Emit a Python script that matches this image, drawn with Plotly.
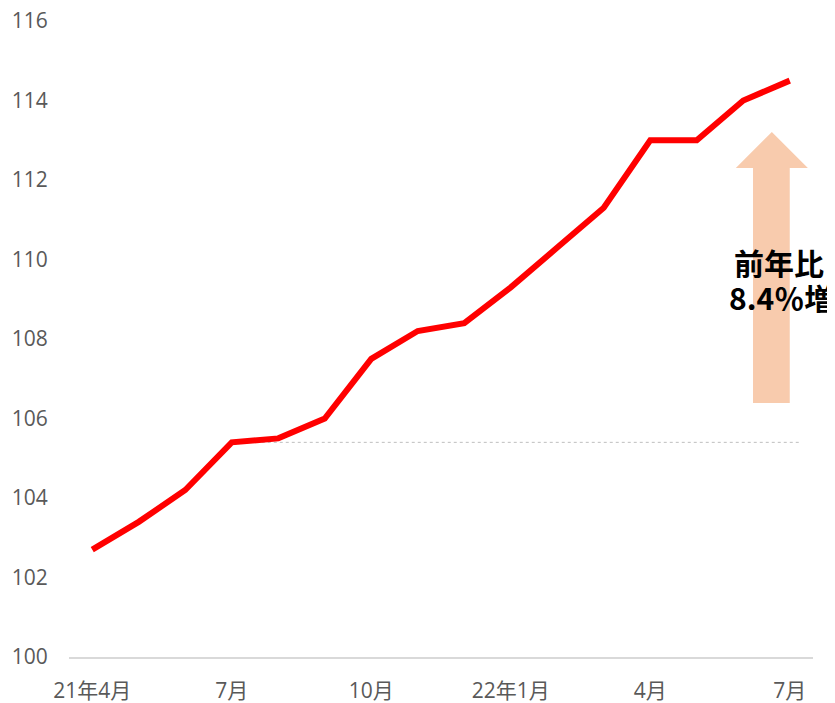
import plotly.graph_objects as go

months = ["21年4月", "5月", "6月", "7月", "8月", "9月", "10月", "11月", "12月",
          "22年1月", "2月", "3月", "4月", "5月", "6月", "7月"]
values = [102.7, 103.4, 104.2, 105.4, 105.5, 106.0, 107.5, 108.2, 108.4,
          109.3, 110.3, 111.3, 113.0, 113.0, 114.0, 114.5]
tick_idx = [0, 3, 6, 9, 12, 15]
tick_labels = ["21年4月", "7月", "10月", "22年1月", "4月", "7月"]
y_ticks = list(range(100, 117, 2))

FONT = "Open Sans, Noto Sans CJK JP"
CJK = "Noto Sans CJK JP"
x = list(range(len(months)))

fig = go.Figure()
fig.add_trace(go.Scatter(
    x=x, y=values, mode="lines",
    line=dict(color="#FF0000", width=6),
    hoverinfo="skip", showlegend=False,
))

# reference line at the year-ago (7月) level
ref_y = values[3]
fig.add_shape(type="line", xref="x", yref="y", x0=3, x1=15.25, y0=ref_y, y1=ref_y,
              line=dict(color="#BFBFBF", width=1, dash="dot"), layer="below")

# up arrow
hl, hr, sl, sr = 13.84, 15.39, 14.21, 15.0
tip, base, bottom = 113.21, 112.30, 106.39
path = (f"M {sl},{bottom} L {sl},{base} L {hl},{base} L {(hl+hr)/2},{tip} "
        f"L {hr},{base} L {sr},{base} L {sr},{bottom} Z")
fig.add_shape(type="path", path=path, xref="x", yref="y",
              fillcolor="#F8CBAD", line=dict(width=0), layer="below")

for txt, xx, yy in [("前年比", 14.77, 109.94), ("8.4％増", 14.82, 109.06)]:
    fig.add_annotation(x=xx, y=yy, xref="x", yref="y",
                       text=f"<b>{txt}</b>", showarrow=False, height=33,
                       font=dict(family=CJK, size=30, color="#000000"),
                       align="center", valign="middle")

fig.update_layout(
    width=827, height=695,
    margin=dict(l=61, r=22, t=13, b=46),
    paper_bgcolor="white", plot_bgcolor="white",
    font=dict(family=FONT, color="#595959", size=21),
)
fig.update_xaxes(
    range=[-0.5, 15.5], tickvals=tick_idx, ticktext=tick_labels, automargin=False,
    ticklabeloverflow="allow",
    showgrid=False, zeroline=False, showline=True, linecolor="#D9D9D9", linewidth=1.5,
    ticks="outside", ticklen=14, tickcolor="rgba(0,0,0,0)",
    tickfont=dict(family=FONT, size=21, color="#595959"),
)
fig.update_yaxes(
    range=[100, 116], tickvals=y_ticks, automargin=False,
    ticklabeloverflow="allow",
    showgrid=False, zeroline=False, showline=False,
    ticks="outside", ticklen=16, tickcolor="rgba(0,0,0,0)",
    tickfont=dict(family=FONT, size=21, color="#595959"),
)

fig.write_html("out.html")
